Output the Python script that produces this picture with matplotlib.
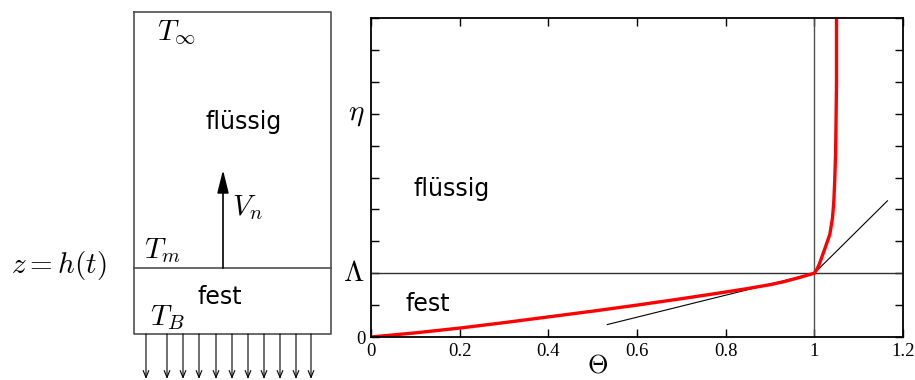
import numpy as np
import matplotlib
matplotlib.use("Agg")
import matplotlib.pyplot as plt

plt.rcParams['mathtext.fontset'] = 'cm'

# red curve: solid branch and liquid branch
theta_fest = [0.0, 0.1, 0.2, 0.3, 0.4, 0.5, 0.6, 0.7, 0.8, 0.85, 0.9, 0.93, 0.957, 0.98, 1.0]
eta_fest = [0.0, 0.13, 0.28, 0.45, 0.63, 0.81, 1.0, 1.2, 1.41, 1.52, 1.64, 1.73, 1.83, 1.92, 2.0]
theta_fl = [1.0, 1.006, 1.011, 1.022, 1.035, 1.041, 1.044, 1.046, 1.048, 1.049, 1.05, 1.05]
eta_fl = [2.0, 2.13, 2.28, 2.7, 3.22, 3.74, 4.27, 4.9, 5.8, 6.8, 8.0, 10.0]

# tangent lines at the interface
tan_low_x = [0.533, 1.0]
tan_low_y = [0.39, 2.0]
tan_up_x = [1.0, 1.165]
tan_up_y = [2.0, 4.27]

lam = 2.0
eta_mark = 7.0
x_ticks = [0, 0.2, 0.4, 0.6, 0.8, 1.0, 1.2]
x_labels = ['0', '0.2', '0.4', '0.6', '0.8', '1', '1.2']
y_ticks = list(range(0, 11))

# down arrows under the box (pixel positions of the schematic)
arrow_x = [146, 167, 183, 199, 216, 232, 248, 264, 280, 296, 311]

fig = plt.figure(figsize=(9.15, 3.8), dpi=100)

# ---- left schematic, drawn in pixel coordinates
axs = fig.add_axes([0, 0, 340 / 915, 1])
axs.set_xlim(0, 340)
axs.set_ylim(380, 0)
axs.axis('off')
gray = '#505050'
axs.plot([134, 331, 331, 134, 134], [12, 12, 334, 334, 12], color=gray, lw=1.2)
axs.plot([134, 331], [268, 268], color=gray, lw=1.2)
axs.annotate('', xy=(223, 170), xytext=(223, 268),
             arrowprops=dict(arrowstyle='-|>,head_length=1.4,head_width=0.35',
                             color='black', lw=1.2, shrinkA=0, shrinkB=0))
for xa in arrow_x:
    axs.annotate('', xy=(xa, 379), xytext=(xa, 334),
                 arrowprops=dict(arrowstyle='->,head_length=0.5,head_width=0.2',
                                 color='black', lw=0.8, shrinkA=0, shrinkB=0))
mfs = 21
axs.text(157, 33, r'$T_\infty$', fontsize=mfs, va='center')
axs.text(206, 122, 'flüssig', fontsize=17, va='center')
axs.text(232, 208, r'$V_n$', fontsize=mfs, va='center')
axs.text(144, 251, r'$T_m$', fontsize=mfs, va='center')
axs.text(11, 266, r'$z = h(t)$', fontsize=mfs, va='center')
axs.text(198, 297, 'fest', fontsize=17, va='center')
axs.text(150, 318, r'$T_B$', fontsize=mfs, va='center')

# ---- right plot
ax = fig.add_axes([371 / 915, 1 - 337 / 380, 532 / 915, 319 / 380])
ax.axvline(1.0, color=gray, lw=1.0)
ax.axhline(lam, color='#303030', lw=1.0)
ax.plot(tan_low_x, tan_low_y, color='black', lw=0.8)
ax.plot(tan_up_x, tan_up_y, color='black', lw=0.8)
ax.plot(theta_fest, eta_fest, color='#ff0000', lw=2.4, solid_capstyle='round')
ax.plot(theta_fl, eta_fl, color='#ff0000', lw=2.4, solid_capstyle='round')
ax.set_xlim(0, 1.2)
ax.set_ylim(0, 10)
ax.set_xticks(x_ticks)
ax.set_xticklabels(x_labels, fontfamily='Liberation Serif', fontsize=13.5)
ax.set_yticks(y_ticks)
ylabels = ['' for _ in y_ticks]
ylabels[0] = '0'
ax.set_yticklabels(ylabels, fontfamily='Liberation Serif', fontsize=13.5)
ax.tick_params(direction='in', top=True, right=True, length=6, width=1.0, pad=4)
ax.text(-0.012, lam, r'$\Lambda$', fontsize=21, ha='right', va='center',
        transform=ax.get_yaxis_transform())
ax.text(-0.012, eta_mark, r'$\eta$', fontsize=21, ha='right', va='center',
        transform=ax.get_yaxis_transform())
ax.set_xlabel(r'$\Theta$', fontsize=19, va='center')
ax.xaxis.set_label_coords(0.425, -0.09)
ax.text(0.095, 4.65, 'flüssig', fontsize=17, va='center')
ax.text(0.077, 1.05, 'fest', fontsize=17, va='center')
for s in ax.spines.values():
    s.set_linewidth(1.3)

fig.savefig('out.png', dpi=100)
